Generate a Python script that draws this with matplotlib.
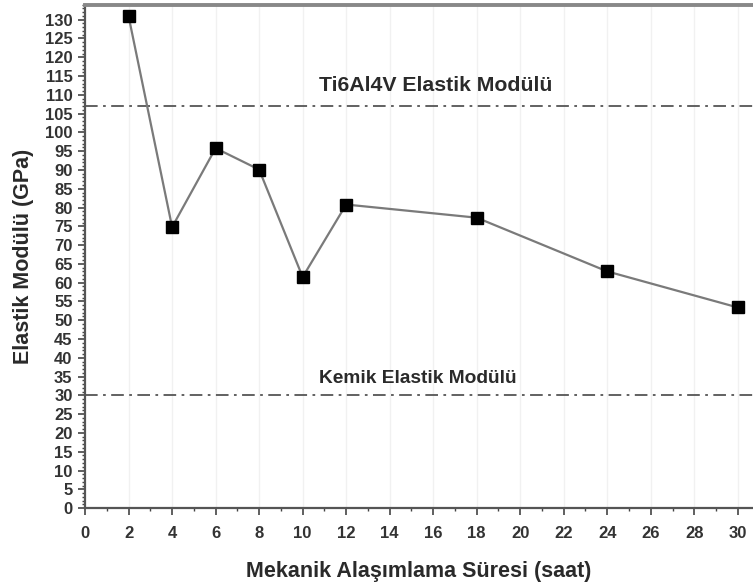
import matplotlib
matplotlib.use("Agg")
import matplotlib.pyplot as plt
from matplotlib.ticker import MultipleLocator

# Milling time (hours) and measured elastic modulus (GPa)
sure_saat = [2, 4, 6, 8, 10, 12, 18, 24, 30]
elastik_modul = [130.9, 74.8, 95.8, 90.1, 61.5, 80.8, 77.3, 63.0, 53.4]

# Reference moduli
ti6al4v_modul = 107
kemik_modul = 30
ref_labels = ["Ti6Al4V Elastik Modülü", "Kemik Elastik Modülü"]

x_ticks = list(range(0, 31, 2))
y_ticks = list(range(0, 131, 5))

plt.rcParams["font.family"] = ["Liberation Sans", "DejaVu Sans"]
plt.rcParams["font.weight"] = "bold"

fig = plt.figure(figsize=(7.53, 5.84), dpi=100)
ax = fig.add_axes([0.113, 0.130, 0.887, 0.862])

ax.set_xlim(0, 30.7)
ax.set_ylim(0, 134)

# faint vertical guides at major x ticks
for xt in x_ticks[1:]:
    ax.axvline(xt, color="#f1f1f1", lw=1.0, zorder=0)

dash = (0, (7, 3, 1.5, 3))
ax.axhline(ti6al4v_modul, color="#555555", lw=1.3, linestyle=dash, zorder=1)
ax.axhline(kemik_modul, color="#555555", lw=1.3, linestyle=dash, zorder=1)

ax.plot(sure_saat, elastik_modul, color="#7a7a7a", lw=1.6, zorder=2)
ax.plot(sure_saat, elastik_modul, linestyle="none", marker="s", ms=8,
        color="black", zorder=3)

ax.text(10.75, 112.5, ref_labels[0], ha="left", va="center",
        fontsize=15.3, fontweight="bold", color="#2a2a2a")
ax.text(10.75, 34.6, ref_labels[1], ha="left", va="center",
        fontsize=13.8, fontweight="bold", color="#2a2a2a")

ax.set_xticks(x_ticks)
ax.set_yticks(y_ticks)
ax.xaxis.set_minor_locator(MultipleLocator(1))
ax.yaxis.set_minor_locator(MultipleLocator(1))
ax.tick_params(axis="both", which="major", direction="out", length=5,
               width=1.2, color="#444444", labelsize=12, pad=4,
               labelcolor="#333333")
ax.tick_params(axis="x", which="major", pad=8)
ax.tick_params(axis="both", which="minor", direction="out", length=2.5,
               width=1.0, color="#444444")
for lab in ax.get_xticklabels() + ax.get_yticklabels():
    lab.set_fontweight("bold")

for s in ["left", "bottom"]:
    ax.spines[s].set_color("#555555")
    ax.spines[s].set_linewidth(1.6)
ax.spines["top"].set_color("#888888")
ax.spines["top"].set_linewidth(2.8)
ax.spines["right"].set_visible(False)

ax.set_xlabel("Mekanik Alaşımlama Süresi (saat)", fontsize=15.5,
              fontweight="bold", color="#2a2a2a", labelpad=14)
ax.set_ylabel("Elastik Modülü (GPa)", fontsize=15.5, fontweight="bold",
              color="#2a2a2a", labelpad=8)

fig.savefig("out.png", dpi=100)
